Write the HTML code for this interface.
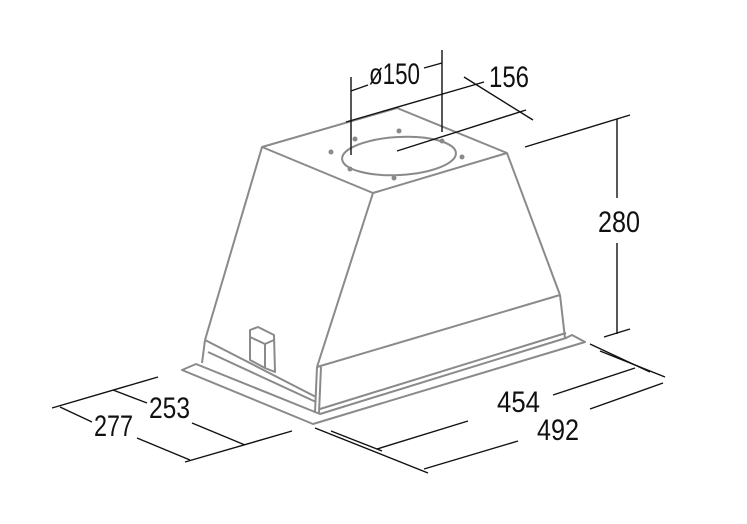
<!DOCTYPE html>
<html><head><meta charset="utf-8"><style>
html,body{margin:0;padding:0;background:#fff;}
svg{display:block;}
text{font-family:"Liberation Sans Narrow","Liberation Sans",sans-serif;font-size:30px;fill:#111;}
</style></head><body>
<svg width="747" height="524" viewBox="0 0 747 524" xmlns="http://www.w3.org/2000/svg">
<g fill="none" stroke="#8a8a8a" stroke-width="2" stroke-linejoin="round">
  <polygon points="262,147 397,108 507,153 373,193"/>
  <ellipse cx="399" cy="156" rx="57" ry="19" transform="rotate(-3 399 156)"/>
  <line x1="262" y1="147" x2="205" y2="340"/>
  <line x1="373" y1="193" x2="317" y2="367"/>
  <line x1="507" y1="153" x2="560" y2="295"/>
  <line x1="317" y1="367" x2="560" y2="295"/>
  <line x1="560" y1="295" x2="565" y2="338"/>
  <line x1="317" y1="367" x2="315" y2="413"/>
  <line x1="321" y1="367" x2="319" y2="413"/>
  <line x1="205" y1="340" x2="202" y2="363"/>
  <line x1="205" y1="340" x2="316" y2="397"/>
  <line x1="208" y1="352" x2="316" y2="402"/>
  <polygon points="182,370 313,424 585,342 572,335 566,338 320,414 196,364"/>
  <line x1="320" y1="409" x2="566" y2="333"/>
  <polygon points="250,330 258,327 274,335 275,372 265,368 250,360"/>
  <line x1="250" y1="337" x2="265" y2="344"/>
  <line x1="265" y1="344" x2="274" y2="340"/>
  <line x1="265" y1="344" x2="265" y2="368"/>
</g>
<g fill="#8a8a8a">
  <circle cx="355" cy="139" r="2.5"/><circle cx="399" cy="131" r="2.5"/><circle cx="442" cy="141" r="2.5"/>
  <circle cx="462" cy="157" r="2.5"/><circle cx="394" cy="178" r="2.5"/><circle cx="350" cy="169" r="2.5"/>
  <circle cx="331" cy="152" r="2.5"/>
</g>
<g stroke="#111" stroke-width="1.4" fill="none">
  <line x1="351" y1="77" x2="351" y2="155"/>
  <line x1="442" y1="50" x2="442" y2="132"/>
  <line x1="351" y1="91" x2="368" y2="85"/>
  <line x1="424" y1="68" x2="442" y2="63"/>
  <line x1="346" y1="122" x2="484" y2="82"/>
  <line x1="397" y1="151" x2="526" y2="110"/>
  <line x1="464" y1="77" x2="533" y2="120"/>
  <line x1="525" y1="147" x2="630" y2="115"/>
  <line x1="604" y1="337" x2="630" y2="329"/>
  <line x1="617" y1="119" x2="617" y2="198"/>
  <line x1="617" y1="243" x2="617" y2="334"/>
  <line x1="590" y1="344" x2="650" y2="372"/>
  <line x1="600" y1="351" x2="665" y2="377"/>
  <line x1="553" y1="395" x2="635" y2="368"/>
  <line x1="590" y1="409" x2="663" y2="383"/>
  <line x1="315" y1="428" x2="428" y2="473"/>
  <line x1="331" y1="431" x2="382" y2="451"/>
  <line x1="377" y1="449" x2="468" y2="421"/>
  <line x1="424" y1="469" x2="518" y2="441"/>
  <line x1="52" y1="408" x2="158" y2="377"/>
  <line x1="60" y1="407" x2="92" y2="422"/>
  <line x1="113" y1="390" x2="147" y2="403"/>
  <line x1="192" y1="423" x2="245" y2="445"/>
  <line x1="185" y1="462" x2="292" y2="431"/>
  <line x1="137" y1="438" x2="190" y2="460"/>
</g>
<text x="369" y="84" textLength="51" lengthAdjust="spacingAndGlyphs">ø150</text>
<text x="489" y="87" textLength="40" lengthAdjust="spacingAndGlyphs">156</text>
<text x="598" y="232" textLength="42" lengthAdjust="spacingAndGlyphs">280</text>
<text x="497" y="412" textLength="43" lengthAdjust="spacingAndGlyphs">454</text>
<text x="537" y="440" textLength="42" lengthAdjust="spacingAndGlyphs">492</text>
<text x="149" y="418" textLength="41" lengthAdjust="spacingAndGlyphs">253</text>
<text x="94" y="436" textLength="39" lengthAdjust="spacingAndGlyphs">277</text>
</svg>
</body></html>
